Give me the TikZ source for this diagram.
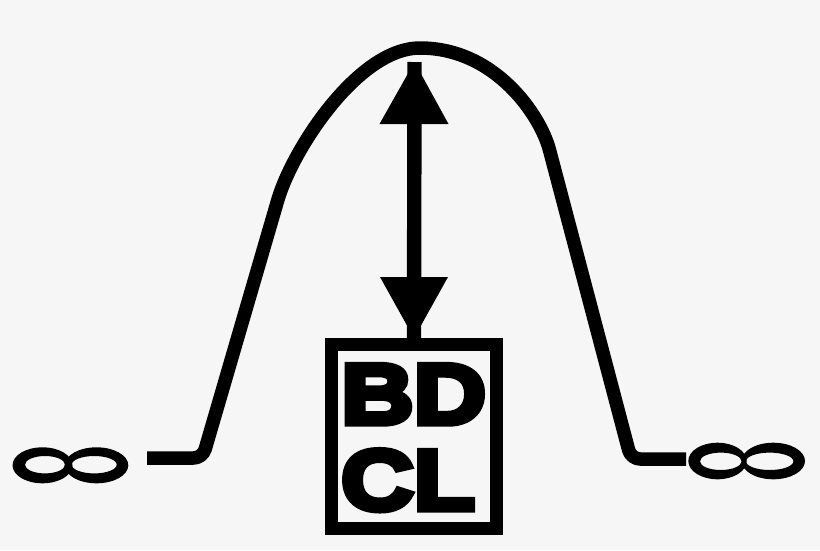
\documentclass[tikz,border=0pt]{standalone}
\usepackage{fontspec}
\setmainfont{Liberation Sans}
\newfontfamily\heavyfont{Liberation Sans Bold}[FakeBold=7.5, FakeStretch=1.18]
\definecolor{bg}{HTML}{F6F6F6}
\begin{document}
\begin{tikzpicture}[x=1pt,y=-1pt,
  curve/.style={line width=13.5pt, line cap=butt, line join=round},
  boxstyle/.style={draw, line width=13pt, minimum width=165pt, minimum height=183.5pt, inner sep=0pt},
  bigtext/.style={anchor=base west, inner sep=0pt, font=\heavyfont\fontsize{85}{85}\selectfont},
  shaft/.style={line width=14.4pt}]
\useasboundingbox (0,0) rectangle (820,550);
\fill[bg] (0,0) rectangle (820,550);
% bell curve
\draw[curve] (147,458) -- (193.6,458)
  .. controls (198.6,458) and (203.7,454.2) .. (205.1,449.4)
  -- (277.8,200)
  .. controls (292.4,150) and (358,48) .. (420,48)
  .. controls (495,48) and (540.3,115) .. (549.5,150)
  -- (628.7,450.3)
  .. controls (630,455.1) and (635,459) .. (640,459)
  -- (686,459);
% box with text
\node[boxstyle] (box) at (414,436.25) {};
\node[bigtext] (bd) at (341,423.5) {BD};
\node[bigtext] (cl) at (341,509.5) {CL};
% double arrow
\coordinate (peak) at (414.5,62);
\draw[shaft] (box.north) -- (peak);
\fill (379.5,124) -- (448.5,124) -- (peak) -- cycle;
\fill (380,277) -- (448,277) -- (box.north) -- cycle;
% left infinity
\fill[even odd rule] (42.5,465.3) ellipse [x radius=30, y radius=18] (45,464.7) ellipse [x radius=20, y radius=8.7];
\fill[even odd rule] (96.5,465.3) ellipse [x radius=31.8, y radius=18] (94.2,464.7) ellipse [x radius=22.5, y radius=8.7];
% right infinity
\fill[even odd rule] (717.5,461) ellipse [x radius=29.2, y radius=18.3] (720.8,461.3) ellipse [x radius=20.8, y radius=8.7];
\fill[even odd rule] (773.3,461) ellipse [x radius=31.7, y radius=18.3] (769.7,461.3) ellipse [x radius=23.7, y radius=8.7];
\end{tikzpicture}
\end{document}
